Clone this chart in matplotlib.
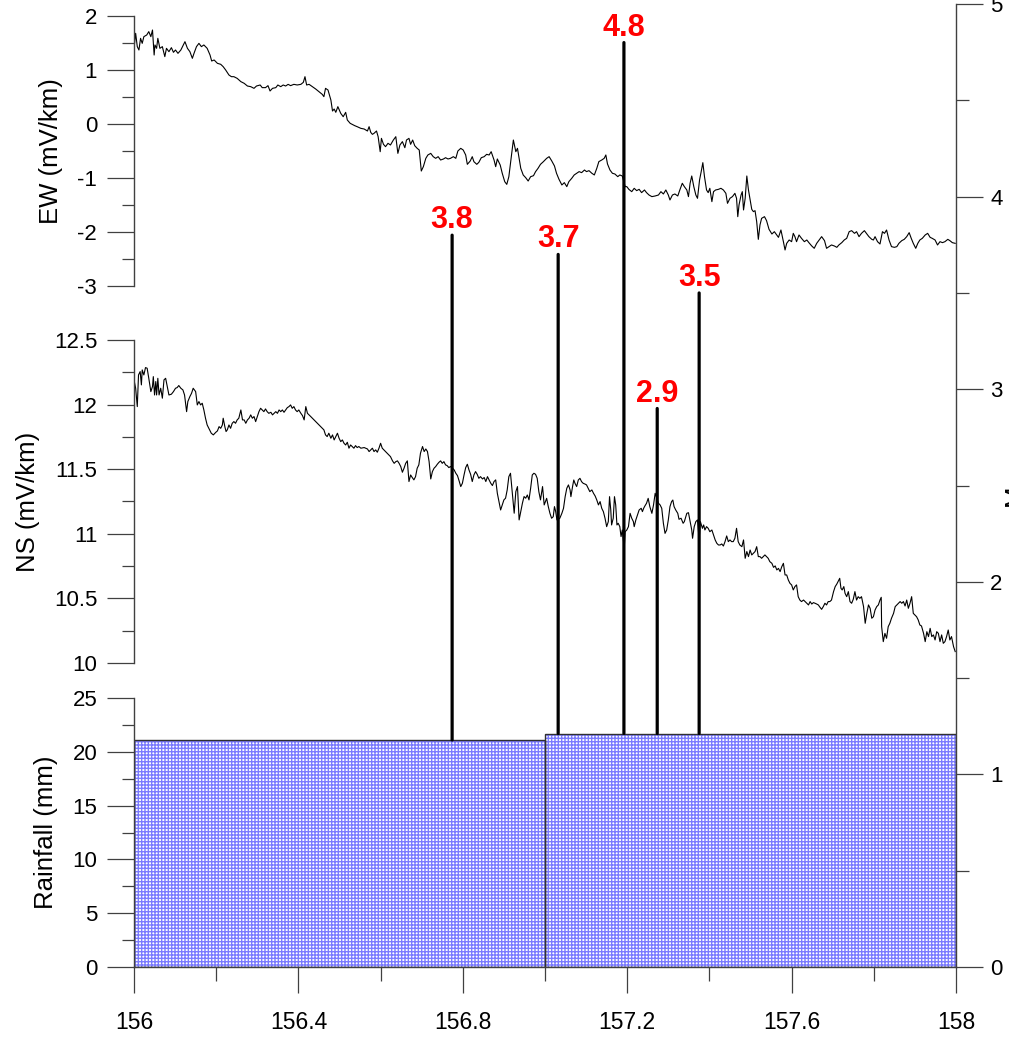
import numpy as np
import matplotlib
matplotlib.use('Agg')
import matplotlib.pyplot as plt
from matplotlib.patches import ConnectionPatch
from matplotlib.ticker import MultipleLocator, FuncFormatter

plt.rcParams['font.family'] = ['Liberation Sans', 'DejaVu Sans']
plt.rcParams['axes.unicode_minus'] = False

# EW electric field component (mV/km) vs day of year
ew_day = [
    156.000, 156.004, 156.008, 156.012, 156.016, 156.020, 156.024, 156.031, 156.036, 156.041,
    156.045, 156.049, 156.051, 156.055, 156.058, 156.063, 156.069, 156.075, 156.079, 156.085,
    156.091, 156.096, 156.101, 156.107, 156.114, 156.120, 156.124, 156.130, 156.136, 156.142,
    156.146, 156.152, 156.158, 156.164, 156.170, 156.178, 156.185, 156.189, 156.195, 156.203,
    156.211, 156.217, 156.223, 156.231, 156.237, 156.243, 156.251, 156.260, 156.268, 156.276,
    156.284, 156.292, 156.298, 156.307, 156.312, 156.320, 156.326, 156.331, 156.337, 156.345,
    156.350, 156.357, 156.363, 156.369, 156.375, 156.381, 156.389, 156.397, 156.406, 156.412,
    156.416, 156.420, 156.426, 156.434, 156.442, 156.450, 156.458, 156.462, 156.466, 156.472,
    156.479, 156.483, 156.487, 156.491, 156.496, 156.503, 156.509, 156.515, 156.519, 156.526,
    156.531, 156.537, 156.543, 156.552, 156.560, 156.568, 156.572, 156.576, 156.580, 156.584,
    156.590, 156.594, 156.599, 156.602, 156.607, 156.612, 156.618, 156.624, 156.631, 156.637,
    156.642, 156.647, 156.653, 156.659, 156.663, 156.669, 156.673, 156.678, 156.683, 156.689,
    156.694, 156.699, 156.704, 156.710, 156.715, 156.722, 156.728, 156.734, 156.740, 156.746,
    156.753, 156.758, 156.764, 156.770, 156.777, 156.783, 156.788, 156.795, 156.801, 156.807,
    156.811, 156.818, 156.823, 156.827, 156.834, 156.839, 156.845, 156.852, 156.858, 156.864,
    156.869, 156.876, 156.880, 156.884, 156.891, 156.896, 156.902, 156.907, 156.912, 156.918,
    156.923, 156.929, 156.933, 156.937, 156.941, 156.947, 156.953, 156.959, 156.965, 156.972,
    156.977, 156.983, 156.989, 156.996, 157.000, 157.004, 157.010, 157.016, 157.023, 157.028,
    157.034, 157.041, 157.047, 157.053, 157.058, 157.065, 157.071, 157.077, 157.083, 157.089,
    157.096, 157.101, 157.107, 157.114, 157.120, 157.126, 157.131, 157.138, 157.144, 157.148,
    157.152, 157.158, 157.164, 157.170, 157.177, 157.182, 157.188, 157.195, 157.199, 157.204,
    157.211, 157.217, 157.223, 157.229, 157.235, 157.242, 157.247, 157.253, 157.260, 157.268,
    157.276, 157.282, 157.288, 157.294, 157.300, 157.304, 157.310, 157.316, 157.323, 157.328,
    157.334, 157.339, 157.345, 157.349, 157.353, 157.357, 157.362, 157.367, 157.371, 157.376,
    157.380, 157.384, 157.388, 157.393, 157.397, 157.401, 157.406, 157.410, 157.415, 157.422,
    157.428, 157.434, 157.440, 157.444, 157.450, 157.456, 157.462, 157.466, 157.469, 157.472,
    157.477, 157.480, 157.483, 157.487, 157.491, 157.495, 157.499, 157.503, 157.507, 157.511,
    157.515, 157.519, 157.523, 157.527, 157.534, 157.539, 157.545, 157.552, 157.558, 157.564,
    157.568, 157.574, 157.580, 157.584, 157.588, 157.594, 157.600, 157.604, 157.608, 157.612,
    157.618, 157.624, 157.631, 157.637, 157.642, 157.649, 157.655, 157.661, 157.667, 157.673,
    157.680, 157.685, 157.691, 157.697, 157.704, 157.710, 157.715, 157.722, 157.728, 157.734,
    157.740, 157.746, 157.753, 157.758, 157.764, 157.770, 157.777, 157.783, 157.788, 157.795,
    157.799, 157.803, 157.809, 157.815, 157.821, 157.826, 157.831, 157.837, 157.843, 157.850,
    157.856, 157.861, 157.868, 157.874, 157.880, 157.886, 157.891, 157.896, 157.902, 157.907,
    157.912, 157.918, 157.925, 157.931, 157.937, 157.942, 157.949, 157.955, 157.961, 157.967,
    157.973, 157.980, 157.985, 157.991, 157.998,
]
ew_mv = [
    1.401, 1.679, 1.432, 1.370, 1.586, 1.493, 1.617, 1.648, 1.710, 1.617,
    1.740, 1.277, 1.463, 1.401, 1.586, 1.401, 1.432, 1.247, 1.401, 1.339,
    1.413, 1.327, 1.370, 1.308, 1.370, 1.463, 1.524, 1.401, 1.339, 1.216,
    1.308, 1.432, 1.493, 1.432, 1.463, 1.401, 1.277, 1.166, 1.185, 1.123,
    1.105, 1.061, 1.000, 0.907, 0.876, 0.876, 0.845, 0.784, 0.753, 0.703,
    0.691, 0.660, 0.703, 0.722, 0.673, 0.673, 0.710, 0.611, 0.660, 0.673,
    0.722, 0.691, 0.722, 0.703, 0.734, 0.710, 0.734, 0.722, 0.734, 0.771,
    0.876, 0.722, 0.734, 0.691, 0.648, 0.598, 0.549, 0.506, 0.660, 0.629,
    0.444, 0.240, 0.277, 0.216, 0.321, 0.197, 0.135, 0.216, 0.074, 0.012,
    -0.007, -0.031, -0.050, -0.081, -0.093, -0.130, -0.050, -0.155, -0.192, -0.173,
    -0.130, -0.235, -0.513, -0.266, -0.377, -0.420, -0.358, -0.389, -0.297, -0.235,
    -0.544, -0.389, -0.327, -0.439, -0.297, -0.266, -0.377, -0.297, -0.402, -0.451,
    -0.482, -0.871, -0.790, -0.636, -0.574, -0.544, -0.605, -0.636, -0.605, -0.667,
    -0.648, -0.624, -0.648, -0.636, -0.605, -0.636, -0.500, -0.451, -0.482, -0.574,
    -0.747, -0.686, -0.605, -0.698, -0.747, -0.710, -0.624, -0.605, -0.562, -0.574,
    -0.513, -0.667, -0.790, -0.648, -0.760, -0.914, -1.068, -1.118, -0.976, -0.605,
    -0.297, -0.513, -0.451, -0.636, -0.821, -0.945, -0.994, -1.056, -0.976, -0.957,
    -0.883, -0.821, -0.747, -0.698, -0.667, -0.636, -0.605, -0.679, -0.777, -0.913,
    -1.024, -1.129, -1.086, -1.160, -1.068, -1.006, -0.944, -0.913, -0.882, -0.901,
    -0.852, -0.882, -0.864, -0.913, -0.944, -0.821, -0.697, -0.667, -0.636, -0.574,
    -0.740, -0.852, -0.913, -0.926, -0.975, -0.944, -0.963, -1.160, -1.160, -1.210,
    -1.253, -1.191, -1.234, -1.210, -1.271, -1.222, -1.271, -1.315, -1.345, -1.333,
    -1.315, -1.253, -1.296, -1.222, -1.315, -1.407, -1.315, -1.296, -1.333, -1.222,
    -1.098, -1.160, -1.222, -1.345, -1.098, -0.963, -1.160, -1.315, -1.376, -1.037,
    -0.882, -0.716, -0.975, -1.222, -1.271, -1.191, -1.438, -1.253, -1.222, -1.210,
    -1.191, -1.222, -1.284, -1.469, -1.376, -1.345, -1.284, -1.376, -1.716, -1.500,
    -1.315, -1.253, -1.592, -1.376, -0.963, -1.222, -1.407, -1.580, -1.623, -1.605,
    -1.808, -2.136, -1.870, -1.747, -1.716, -1.790, -1.950, -2.037, -1.994, -2.055,
    -2.099, -1.963, -2.179, -2.333, -2.210, -2.148, -2.179, -2.025, -2.086, -2.179,
    -2.055, -2.117, -2.179, -2.148, -2.197, -2.259, -2.302, -2.210, -2.148, -2.086,
    -2.160, -2.302, -2.271, -2.240, -2.259, -2.284, -2.240, -2.197, -2.148, -2.117,
    -1.994, -1.975, -2.025, -1.994, -2.086, -2.025, -1.975, -2.037, -2.086, -2.136,
    -2.148, -2.086, -2.179, -2.222, -1.994, -2.025, -1.963, -2.148, -2.271, -2.284,
    -2.271, -2.210, -2.160, -2.136, -2.086, -2.012, -2.117, -2.210, -2.302, -2.210,
    -2.148, -2.117, -2.055, -2.025, -2.099, -2.117, -2.148, -2.240, -2.179, -2.197,
    -2.179, -2.136, -2.160, -2.197, -2.210,
]

# NS electric field component (mV/km)
ns_day = [
    156.000, 156.004, 156.008, 156.011, 156.015, 156.018, 156.020, 156.024, 156.028, 156.032,
    156.036, 156.041, 156.045, 156.047, 156.050, 156.053, 156.055, 156.058, 156.061, 156.065,
    156.069, 156.073, 156.077, 156.081, 156.085, 156.091, 156.096, 156.101, 156.105, 156.109,
    156.114, 156.119, 156.123, 156.128, 156.131, 156.136, 156.140, 156.144, 156.150, 156.154,
    156.158, 156.162, 156.166, 156.170, 156.174, 156.178, 156.182, 156.188, 156.193, 156.199,
    156.203, 156.207, 156.211, 156.215, 156.217, 156.221, 156.224, 156.227, 156.231, 156.235,
    156.239, 156.243, 156.247, 156.251, 156.255, 156.260, 156.264, 156.268, 156.272, 156.276,
    156.280, 156.284, 156.288, 156.292, 156.296, 156.300, 156.304, 156.308, 156.312, 156.316,
    156.320, 156.324, 156.328, 156.333, 156.337, 156.341, 156.345, 156.349, 156.353, 156.357,
    156.361, 156.365, 156.369, 156.373, 156.377, 156.381, 156.385, 156.389, 156.393, 156.397,
    156.401, 156.406, 156.410, 156.414, 156.418, 156.422, 156.426, 156.430, 156.438, 156.446,
    156.454, 156.462, 156.466, 156.470, 156.474, 156.479, 156.483, 156.487, 156.491, 156.495,
    156.499, 156.503, 156.507, 156.511, 156.515, 156.519, 156.523, 156.527, 156.531, 156.535,
    156.539, 156.543, 156.547, 156.552, 156.560, 156.568, 156.572, 156.576, 156.580, 156.584,
    156.588, 156.592, 156.596, 156.600, 156.604, 156.608, 156.616, 156.624, 156.629, 156.633,
    156.637, 156.641, 156.645, 156.649, 156.653, 156.657, 156.661, 156.665, 156.669, 156.673,
    156.677, 156.681, 156.685, 156.689, 156.693, 156.697, 156.702, 156.706, 156.710, 156.714,
    156.718, 156.722, 156.726, 156.730, 156.734, 156.738, 156.742, 156.746, 156.750, 156.754,
    156.758, 156.762, 156.766, 156.770, 156.775, 156.779, 156.783, 156.787, 156.791, 156.795,
    156.799, 156.803, 156.807, 156.811, 156.815, 156.819, 156.823, 156.827, 156.831, 156.835,
    156.839, 156.843, 156.848, 156.852, 156.856, 156.860, 156.864, 156.868, 156.872, 156.876,
    156.880, 156.884, 156.888, 156.892, 156.896, 156.900, 156.904, 156.908, 156.912, 156.916,
    156.921, 156.925, 156.929, 156.933, 156.937, 156.941, 156.945, 156.949, 156.953, 156.957,
    156.961, 156.965, 156.969, 156.973, 156.977, 156.981, 156.985, 156.989, 156.994, 156.998,
    157.004, 157.008, 157.012, 157.016, 157.020, 157.023, 157.026, 157.029, 157.032, 157.036,
    157.041, 157.045, 157.049, 157.053, 157.057, 157.061, 157.063, 157.067, 157.070, 157.073,
    157.077, 157.081, 157.085, 157.089, 157.093, 157.097, 157.101, 157.105, 157.109, 157.114,
    157.118, 157.122, 157.126, 157.130, 157.134, 157.138, 157.142, 157.146, 157.150, 157.154,
    157.157, 157.160, 157.162, 157.166, 157.169, 157.172, 157.175, 157.178, 157.182, 157.185,
    157.188, 157.191, 157.192, 157.195, 157.199, 157.203, 157.207, 157.211, 157.215, 157.217,
    157.221, 157.225, 157.229, 157.234, 157.237, 157.240, 157.243, 157.247, 157.251, 157.255,
    157.260, 157.264, 157.268, 157.272, 157.276, 157.280, 157.284, 157.288, 157.292, 157.296,
    157.300, 157.304, 157.308, 157.311, 157.314, 157.318, 157.323, 157.326, 157.331, 157.336,
    157.339, 157.345, 157.349, 157.353, 157.357, 157.359, 157.363, 157.367, 157.371, 157.375,
    157.378, 157.383, 157.386, 157.389, 157.393, 157.397, 157.401, 157.406, 157.410, 157.414,
    157.418, 157.422, 157.426, 157.430, 157.434, 157.438, 157.442, 157.446, 157.450, 157.454,
    157.458, 157.462, 157.466, 157.470, 157.474, 157.479, 157.483, 157.487, 157.491, 157.495,
    157.499, 157.503, 157.507, 157.511, 157.515, 157.519, 157.523, 157.527, 157.531, 157.535,
    157.539, 157.543, 157.547, 157.552, 157.556, 157.560, 157.564, 157.568, 157.572, 157.576,
    157.580, 157.584, 157.588, 157.592, 157.596, 157.600, 157.604, 157.608, 157.612, 157.616,
    157.620, 157.624, 157.629, 157.633, 157.637, 157.641, 157.645, 157.649, 157.653, 157.657,
    157.661, 157.665, 157.669, 157.673, 157.677, 157.681, 157.685, 157.689, 157.693, 157.697,
    157.702, 157.706, 157.710, 157.714, 157.717, 157.720, 157.723, 157.727, 157.730, 157.734,
    157.738, 157.742, 157.746, 157.750, 157.754, 157.758, 157.762, 157.766, 157.770, 157.775,
    157.779, 157.783, 157.787, 157.791, 157.795, 157.799, 157.803, 157.807, 157.811, 157.815,
    157.818, 157.819, 157.823, 157.827, 157.831, 157.835, 157.839, 157.843, 157.848, 157.852,
    157.856, 157.860, 157.864, 157.868, 157.872, 157.876, 157.880, 157.884, 157.888, 157.892,
    157.896, 157.900, 157.904, 157.908, 157.912, 157.916, 157.921, 157.925, 157.929, 157.933,
    157.937, 157.941, 157.945, 157.949, 157.953, 157.957, 157.961, 157.965, 157.969, 157.973,
    157.977, 157.981, 157.985, 157.989, 157.994, 157.998,
]
ns_mv = [
    12.191, 12.126, 11.984, 12.229, 12.255, 12.152, 12.268, 12.229, 12.286, 12.281,
    12.203, 12.100, 12.139, 12.216, 12.074, 12.178, 12.074, 12.203, 12.074, 12.126,
    12.049, 12.191, 12.203, 12.139, 12.074, 12.080, 12.100, 12.126, 12.131, 12.147,
    12.126, 12.113, 12.074, 11.945, 12.023, 12.062, 12.087, 12.126, 12.100, 11.997,
    12.023, 11.997, 12.010, 11.958, 11.894, 11.842, 11.816, 11.778, 11.765, 11.785,
    11.796, 11.829, 11.816, 11.842, 11.894, 11.829, 11.791, 11.804, 11.842, 11.816,
    11.855, 11.868, 11.855, 11.881, 11.894, 11.958, 11.881, 11.881, 11.855, 11.881,
    11.894, 11.920, 11.894, 11.907, 11.868, 11.907, 11.945, 11.971, 11.958, 11.945,
    11.966, 11.945, 11.932, 11.940, 11.920, 11.932, 11.945, 11.932, 11.958, 11.945,
    11.958, 11.940, 11.958, 11.976, 11.984, 11.997, 11.971, 11.984, 11.958, 11.945,
    11.958, 11.932, 11.914, 11.881, 11.984, 11.932, 11.920, 11.907, 11.881, 11.855,
    11.829, 11.804, 11.765, 11.752, 11.778, 11.739, 11.765, 11.726, 11.752, 11.778,
    11.739, 11.713, 11.726, 11.700, 11.687, 11.708, 11.662, 11.687, 11.675, 11.662,
    11.682, 11.667, 11.675, 11.662, 11.667, 11.656, 11.636, 11.649, 11.662, 11.636,
    11.649, 11.631, 11.662, 11.700, 11.662, 11.649, 11.623, 11.597, 11.564, 11.545,
    11.558, 11.564, 11.545, 11.520, 11.476, 11.507, 11.545, 11.564, 11.404, 11.455,
    11.435, 11.417, 11.442, 11.507, 11.533, 11.623, 11.675, 11.636, 11.656, 11.636,
    11.558, 11.424, 11.481, 11.507, 11.520, 11.538, 11.553, 11.564, 11.545, 11.558,
    11.533, 11.527, 11.512, 11.520, 11.507, 11.494, 11.468, 11.450, 11.409, 11.365,
    11.391, 11.455, 11.512, 11.538, 11.494, 11.460, 11.404, 11.455, 11.481, 11.460,
    11.429, 11.442, 11.424, 11.435, 11.404, 11.442, 11.417, 11.391, 11.373, 11.404,
    11.417, 11.313, 11.249, 11.184, 11.223, 11.262, 11.275, 11.339, 11.442, 11.468,
    11.300, 11.159, 11.326, 11.365, 11.107, 11.171, 11.236, 11.288, 11.275, 11.300,
    11.262, 11.352, 11.455, 11.468, 11.460, 11.429, 11.326, 11.262, 11.365, 11.223,
    11.274, 11.210, 11.158, 11.120, 11.132, 11.210, 11.171, 11.107, 11.112, 11.120,
    11.158, 11.197, 11.287, 11.352, 11.378, 11.339, 11.287, 11.365, 11.416, 11.390,
    11.365, 11.416, 11.429, 11.403, 11.390, 11.385, 11.378, 11.352, 11.326, 11.339,
    11.313, 11.292, 11.261, 11.223, 11.249, 11.197, 11.171, 11.120, 11.055, 11.094,
    11.287, 11.184, 11.068, 11.120, 11.287, 11.223, 11.068, 11.081, 11.055, 10.978,
    11.029, 10.939, 10.849, 11.016, 11.029, 11.055, 11.158, 11.120, 11.094, 11.055,
    11.107, 11.145, 11.184, 11.197, 11.171, 11.197, 11.215, 11.236, 11.274, 11.210,
    11.158, 11.223, 11.313, 11.274, 11.236, 11.223, 11.197, 11.081, 11.003, 11.029,
    11.107, 11.210, 11.249, 11.261, 11.210, 11.184, 11.158, 11.112, 11.120, 11.081,
    11.094, 11.158, 11.163, 11.094, 11.029, 10.965, 11.055, 11.094, 11.107, 10.952,
    11.094, 11.042, 11.068, 11.029, 11.055, 11.042, 11.016, 11.029, 10.991, 10.952,
    10.926, 10.913, 10.913, 10.921, 10.905, 10.939, 10.983, 10.939, 10.952, 10.939,
    10.939, 10.965, 11.042, 10.939, 10.913, 10.900, 10.952, 10.810, 10.862, 10.823,
    10.874, 10.836, 10.849, 10.862, 10.900, 10.823, 10.823, 10.810, 10.823, 10.836,
    10.823, 10.810, 10.784, 10.771, 10.740, 10.751, 10.720, 10.732, 10.707, 10.745,
    10.771, 10.681, 10.681, 10.642, 10.616, 10.604, 10.565, 10.591, 10.604, 10.513,
    10.487, 10.475, 10.487, 10.475, 10.462, 10.449, 10.475, 10.456, 10.467, 10.462,
    10.456, 10.449, 10.431, 10.415, 10.436, 10.462, 10.449, 10.475, 10.475, 10.487,
    10.552, 10.591, 10.611, 10.637, 10.655, 10.578, 10.565, 10.591, 10.539, 10.513,
    10.552, 10.475, 10.462, 10.493, 10.552, 10.487, 10.513, 10.500, 10.513, 10.436,
    10.307, 10.384, 10.449, 10.423, 10.346, 10.358, 10.410, 10.436, 10.449, 10.487,
    10.508, 10.281, 10.165, 10.229, 10.191, 10.281, 10.307, 10.346, 10.384, 10.436,
    10.449, 10.462, 10.475, 10.462, 10.475, 10.441, 10.487, 10.423, 10.462, 10.513,
    10.384, 10.371, 10.358, 10.333, 10.294, 10.286, 10.229, 10.165, 10.242, 10.204,
    10.268, 10.204, 10.217, 10.178, 10.242, 10.229, 10.165, 10.217, 10.152, 10.165,
    10.204, 10.255, 10.178, 10.204, 10.126, 10.088,
]

# daily rainfall (mm), one bar per day starting at the given day
rain_day = [156.0, 157.0]
rain_mm = [21.1, 21.7]

# earthquakes: origin time (day of year) and magnitude
quake_day = [156.774, 157.032, 157.192, 157.273, 157.375]
quake_mag = [3.8, 3.7, 4.8, 2.9, 3.5]

spine_col = '#404040'
fmt = FuncFormatter(lambda v, p: '{:g}'.format(round(v, 6)))

fig = plt.figure(figsize=(10.09, 10.37), dpi=100)
left, width = 0.1328, 0.8147
ax_ew = fig.add_axes([left, 0.7242, width, 0.2604])
ax_ns = fig.add_axes([left, 0.3607, width, 0.3115])
ax_rain = fig.add_axes([left, 0.0675, width, 0.2594])
ax_mag = fig.add_axes([left, 0.0675, width, 0.9286])
for ax in (ax_ew, ax_ns, ax_rain, ax_mag):
    ax.patch.set_visible(False)
    ax.set_xlim(156, 158)
    for s in ('top', 'right', 'bottom', 'left'):
        ax.spines[s].set_visible(False)
        ax.spines[s].set_color(spine_col)
        ax.spines[s].set_linewidth(1.0)


def left_axis(ax, lo, hi, major, minor, label):
    ax.set_ylim(lo, hi)
    ax.spines['left'].set_visible(True)
    ax.yaxis.set_major_locator(MultipleLocator(major))
    ax.yaxis.set_minor_locator(MultipleLocator(minor))
    ax.yaxis.set_major_formatter(fmt)
    ax.tick_params(axis='y', which='major', direction='out', length=19.5,
                   width=0.9, color=spine_col, labelsize=16, pad=7)
    ax.tick_params(axis='y', which='minor', direction='out', length=9,
                   width=0.9, color=spine_col)
    ax.set_ylabel(label, fontsize=18.5, labelpad=10)


left_axis(ax_ew, -3, 2, 1, 0.5, 'EW (mV/km)')
left_axis(ax_ns, 10, 12.5, 0.5, 0.25, 'NS (mV/km)')
left_axis(ax_rain, 0, 25, 5, 2.5, 'Rainfall (mm)')
ax_ew.set_xticks([])
ax_ns.set_xticks([])

ax_ew.plot(ew_day, ew_mv, color='black', lw=0.8)
ax_ns.plot(ns_day, ns_mv, color='black', lw=0.8)

# rainfall bars: fine blue grid fill, dark outline
ax_rain.bar(rain_day, rain_mm, width=1.0, align='edge', facecolor='white',
            edgecolor='#7a7aff', hatch='+++++', linewidth=0)
ax_rain.bar(rain_day, rain_mm, width=1.0, align='edge', fill=False,
            edgecolor='#303030', linewidth=1.0)
ax_rain.spines['bottom'].set_visible(True)
ax_rain.xaxis.set_major_locator(MultipleLocator(0.4))
ax_rain.xaxis.set_minor_locator(MultipleLocator(0.2))
ax_rain.xaxis.set_major_formatter(fmt)
ax_rain.tick_params(axis='x', which='major', direction='out', length=19,
                    width=0.9, color=spine_col, labelsize=16.5, pad=13)
ax_rain.tick_params(axis='x', which='minor', direction='out', length=10,
                    width=0.9, color=spine_col)

# magnitude scale on the right, spanning all panels
ax_mag.set_ylim(0, 5)
ax_mag.set_xticks([])
ax_mag.spines['right'].set_visible(True)
ax_mag.yaxis.tick_right()
ax_mag.yaxis.set_major_locator(MultipleLocator(1))
ax_mag.yaxis.set_minor_locator(MultipleLocator(0.5))
ax_mag.yaxis.set_major_formatter(fmt)
ax_mag.tick_params(axis='y', which='major', direction='out', length=19.5,
                   width=0.9, color=spine_col, labelsize=16, pad=5)
ax_mag.tick_params(axis='y', which='minor', direction='out', length=9.5,
                   width=0.9, color=spine_col)
ax_mag.yaxis.set_label_position('right')
ax_mag.set_ylabel('Mw', fontsize=18.5)
ax_mag.yaxis.set_label_coords(1.057, 0.5)

# event stems rise from the rainfall bar top to the magnitude value
rain_edges = np.array(rain_day)
for d, m in zip(quake_day, quake_mag):
    i = np.searchsorted(rain_edges, d, side='right') - 1
    stem = ConnectionPatch(xyA=(d, rain_mm[i]), coordsA=ax_rain.transData,
                           xyB=(d, m), coordsB=ax_mag.transData,
                           color='black', lw=2.3)
    fig.add_artist(stem)
    ax_mag.annotate('{:.1f}'.format(m), xy=(d, m), xytext=(0, 5),
                    textcoords='offset points', ha='center', va='baseline',
                    color='red', fontsize=22, fontweight='bold')

fig.savefig('out.png', dpi=100)
